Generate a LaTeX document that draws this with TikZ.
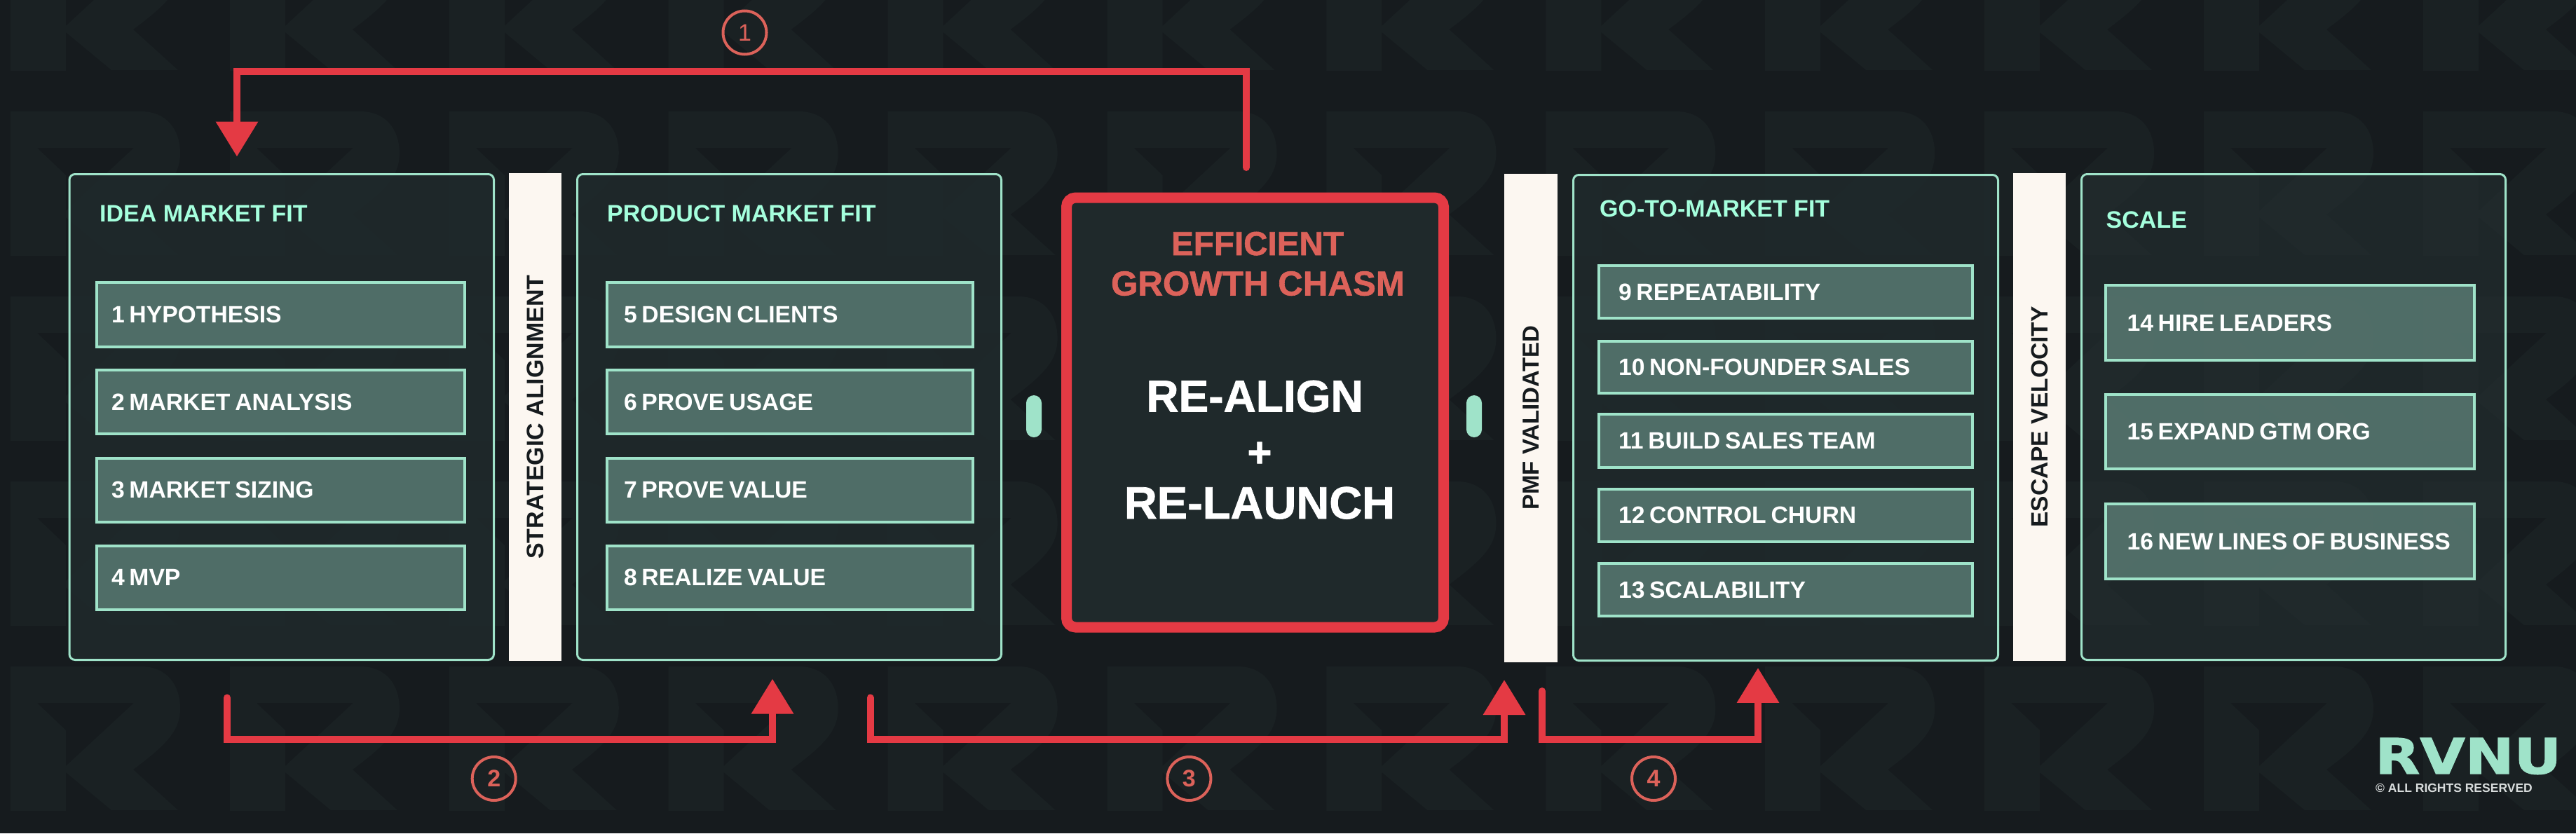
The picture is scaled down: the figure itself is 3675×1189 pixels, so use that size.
\documentclass[tikz,border=0pt]{standalone}
\usepackage{fontspec}
\usepackage{graphicx}
\setmainfont{Liberation Sans}
\newfontfamily\logofont{DejaVu Sans}[BoldFeatures={FakeBold=1.5}]
\newfontfamily\heavyfont{Liberation Sans}[BoldFeatures={FakeBold=1.2}]
\usetikzlibrary{arrows.meta,fit,shapes.geometric}
\definecolor{bgc}{HTML}{161B1E}
\definecolor{tilec}{HTML}{1A2123}
\definecolor{panelc}{HTML}{1F292B}
\definecolor{panelthin}{HTML}{242F31}
\definecolor{mintline}{HTML}{9FE3C9}
\definecolor{mintbright}{HTML}{A5FFDD}
\definecolor{itemc}{HTML}{52706A}
\definecolor{stripc}{HTML}{FCF7F1}
\definecolor{arrowc}{HTML}{E43A44}
\definecolor{softred}{HTML}{DC625A}
\definecolor{copyc}{HTML}{D8DCDC}
\newcommand\fsz[1]{\fontsize{#1}{#1}\selectfont}
\tikzset{
  panelbox/.style={draw=mintline,line width=3pt,fill=panelc,fill opacity=.92,rounded corners=8pt,inner sep=0pt,outer sep=0pt},
  itembox/.style={draw=mintline,line width=4pt,fill=itemc,fill opacity=.96,text opacity=1,text=white,font=\bfseries\fsz{33.7},align=left,inner ysep=0pt,outer sep=0pt},
  headtext/.style={text=mintbright,font=\bfseries\fsz{34},anchor=base west,inner sep=0pt},
  stripbox/.style={fill=stripc,text=bgc,font=\bfseries\fsz{34},rotate=90,inner sep=0pt,outer sep=0pt},
  pill/.style={fill=mintline,rounded corners=11pt,minimum width=22pt,minimum height=60pt,inner sep=0pt},
  redarrow/.style={draw=arrowc,line width=10pt,line cap=round,-{Triangle[length=50pt,width=58pt]}},
  numcircle/.style={circle,draw=softred,line width=4pt,text=softred,font=\bfseries\fsz{34},minimum size=62pt,inner sep=0pt,outer sep=0pt},
  chasmtext/.style={anchor=base,inner sep=0pt,font=\bfseries},
  tile/.style={fill=tilec,even odd rule}
}
\newcommand\itemnode[7]{%
  \pgfmathsetmacro\itw{#4-#2-4-2*#6}%
  \pgfmathsetmacro\ith{#5-#3-4}%
  \node[itembox,text width=\itw pt,inner xsep=#6pt,minimum height=\ith pt] (#1) at ({(#2+#4)/2},{(#3+#5)/2}) {\spaceskip=.2em\relax\mbox{#7}};%
}
\begin{document}
\begin{tikzpicture}[x=1pt,y=-1pt]
\useasboundingbox (0,0) rectangle (3675,1189);
\fill[bgc] (0,0) rectangle (3675,1189);
% watermark tiles
\foreach \c in {0,...,11}{
  \foreach \r in {-1,...,3}{
    \pgfmathsetmacro\tx{15+312.9*\c}
    \pgfmathsetmacro\ty{159+264*\r}
    \begin{scope}[shift={(\tx,\ty)}]
      \fill[tile] (0,0) -- (186,0) .. controls (222,0) and (242,25) .. (242,60)
        .. controls (242,90) and (225,110) .. (175,147) -- (239,205) -- (144,205)
        -- (79,151) -- (79,206) -- (0,206) -- cycle
        (38,52) -- (176,52) -- (79,142) -- (79,91) -- cycle;
    \end{scope}
  }
}
% panels
\node[panelbox,fit={(99,248.5)(704.5,941.5)}] (p1) {};
\node[panelbox,fit={(823.5,248.5)(1428.5,941.5)}] (p2) {};
\node[panelbox,fit={(2244.5,249.5)(2850.5,942.5)}] (p3) {};
\node[panelbox,fill=panelthin,fill opacity=.6,fit={(2969.5,248.5)(3574.5,941.5)}] (p4) {};
% strips
\node[stripbox,minimum width=696pt,minimum height=75pt] (s1) at (763.5,595) {STRATEGIC ALIGNMENT};
\node[stripbox,minimum width=696.5pt,minimum height=75.5pt,font=\bfseries\fsz{33}] (s2) at (2183.75,596.25) {PMF VALIDATED};
\node[stripbox,minimum width=696pt,minimum height=75pt,font=\bfseries\fsz{33.6}] (s3) at (2909.5,595) {ESCAPE VELOCITY};
% headings
\node[headtext] (h1) at (142,316) {IDEA MARKET FIT};
\node[headtext] (h2) at (866,316) {PRODUCT MARKET FIT};
\node[headtext] (h3) at (2282,309) {GO-TO-MARKET FIT};
\node[headtext] (h4) at (3004.5,325) {SCALE};
% items
\itemnode{i1}{136}{401}{665}{497}{21}{1 HYPOTHESIS}
\itemnode{i2}{136}{526}{665}{621}{21}{2 MARKET ANALYSIS}
\itemnode{i3}{136}{651.5}{665}{747}{21}{3 MARKET SIZING}
\itemnode{i4}{136}{776.5}{665}{872}{21}{4 MVP}
\itemnode{i5}{864}{401}{1390}{497}{24}{5 DESIGN CLIENTS}
\itemnode{i6}{864}{526}{1390}{621}{24}{6 PROVE USAGE}
\itemnode{i7}{864}{651.5}{1390}{747}{24}{7 PROVE VALUE}
\itemnode{i8}{864}{776.5}{1390}{872}{24}{8 REALIZE VALUE}
\itemnode{i9}{2279}{377}{2815.5}{456}{28}{9 REPEATABILITY}
\itemnode{i10}{2279}{485}{2815.5}{563}{28}{10 NON-FOUNDER SALES}
\itemnode{i11}{2279}{589}{2815.5}{669}{28}{11 BUILD SALES TEAM}
\itemnode{i12}{2279}{695.5}{2815.5}{774.5}{28}{12 CONTROL CHURN}
\itemnode{i13}{2279}{802}{2815.5}{881}{28}{13 SCALABILITY}
\itemnode{i14}{3001.5}{405}{3532}{516}{31}{14 HIRE LEADERS}
\itemnode{i15}{3001.5}{561}{3532}{671}{31}{15 EXPAND GTM ORG}
\itemnode{i16}{3001.5}{717}{3532}{828}{31}{16 NEW LINES OF BUSINESS}
% chasm
\node[fit={(1521.5,282)(2059.5,895)},draw=arrowc,line width=15pt,fill=panelc,rounded corners=13pt,inner sep=0pt,outer sep=0pt] (chasm) {};
\node[chasmtext,text=softred,font=\heavyfont\bfseries\fsz{47.6}] (c1) at (1794,364) {EFFICIENT};
\node[chasmtext,text=softred,font=\heavyfont\bfseries\fsz{49.3}] (c2) at (1794.5,421.5) {GROWTH CHASM};
\node[chasmtext,text=white,font=\heavyfont\bfseries\fsz{64}] (c3) at (1790,587.5) {RE-ALIGN};
\node[chasmtext,text=white,font=\heavyfont\bfseries\fsz{60}] (c4) at (1797,666) {+};
\node[chasmtext,text=white,font=\heavyfont\bfseries\fsz{65}] (c5) at (1797,740) {RE-LAUNCH};
% pills
\node[pill] (pl) at (1475,594) {};
\node[pill] (pr) at (2103,594) {};
% connector anchors
\coordinate (railtop) at (0,102);
\coordinate (railbot) at (0,1054.5);
\coordinate (a1s) at ([shift={(-12.5pt,43pt)}]chasm.north);
\coordinate (a1e) at ([shift={(-63.75pt,25pt)}]p1.north);
\coordinate (a2s) at ([shift={(-77.75pt,-54pt)}]p1.south);
\coordinate (a2e) at ([shift={(-24pt,-27pt)}]p2.south);
\coordinate (a3s) at ([shift={(115.5pt,-54pt)}]p2.south);
\coordinate (a3e) at ([shift={(-37.75pt,-25.5pt)}]s2.west);
\coordinate (a4s) at ([shift={(16.25pt,-41.5pt)}]s2.west);
\coordinate (a4e) at ([shift={(-39.5pt,-10.4pt)}]p3.south);
\draw[redarrow] (a1s) -- (a1s |- railtop) -- (a1e |- railtop) -- (a1e);
\draw[redarrow] (a2s) -- (a2s |- railbot) -- (a2e |- railbot) -- (a2e);
\draw[redarrow] (a3s) -- (a3s |- railbot) -- (a3e |- railbot) -- (a3e);
\draw[redarrow] (a4s) -- (a4s |- railbot) -- (a4e |- railbot) -- (a4e);
% numbered circles
\node[numcircle,font=\fsz{34}] (n1) at (1062.5,46.5) {1};
\node[numcircle] (n2) at (704.7,1111) {2};
\node[numcircle] (n3) at (1696.4,1111) {3};
\node[numcircle] (n4) at (2359,1111) {4};
% logo
\node[anchor=base west,inner sep=0pt,text=mintline,font=\logofont\bfseries\fsz{70}] (logo) at (3388,1104) {\scalebox{1.19}[1]{RVNU}};
\node[anchor=base west,inner sep=0pt,text=copyc,font=\bfseries\fsz{17.5}] (rights) at (3389,1130.7) {© ALL RIGHTS RESERVED};
\end{tikzpicture}
\end{document}
